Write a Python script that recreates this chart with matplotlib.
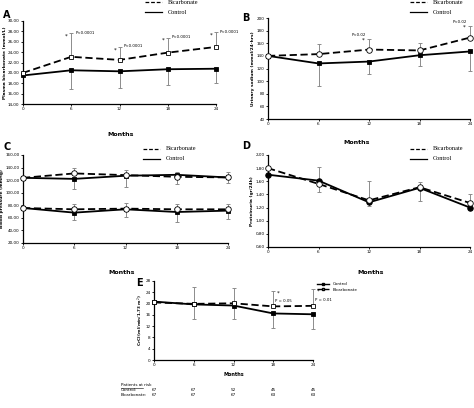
import numpy as np
import matplotlib.pyplot as plt

months = [0, 6, 12, 18, 24]

a_bic = [20.0, 23.1, 22.5, 23.9, 25.0]
a_bic_up = [0, 4.5, 2.5, 2.9, 2.8]
a_ctl = [19.5, 20.5, 20.3, 20.7, 20.8]
a_ctl_dn = [0, 3.7, 3.3, 3.1, 2.7]
a_ticks = [14, 16, 18, 20, 22, 24, 26, 28, 30]

b_bic = [140, 142.8, 150, 148.6, 169]
b_bic_up = [0, 16, 16.6, 11.4, 18.8]
b_ctl = [140, 128, 131, 141, 147]
b_ctl_dn = [0, 35.5, 19.5, 17.3, 31.2]
b_ticks = [40, 60, 80, 100, 120, 140, 160, 180, 200]

c_sbp_bic = [123.7, 130.7, 128.0, 125.3, 124.3]
c_sbp_bic_up = [0, 8, 8, 8, 9]
c_sbp_ctl = [123.7, 122.0, 127.0, 128.5, 124.3]
c_sbp_ctl_dn = [0, 15.5, 18, 14, 8.5]
c_dbp_bic = [75.7, 73.6, 74.7, 73.6, 73.6]
c_dbp_bic_up = [0, 9, 9, 9, 8]
c_dbp_ctl = [75.7, 68.3, 73.6, 69.3, 71.5]
c_dbp_ctl_dn = [0, 12, 13, 16, 13]
c_ticks = [20, 40, 60, 80, 100, 120, 140, 160]

d_bic = [1.80, 1.56, 1.31, 1.51, 1.27]
d_bic_up = [0, 0.25, 0.29, 0.08, 0.13]
d_ctl = [1.70, 1.61, 1.28, 1.50, 1.20]
d_ctl_dn = [0, 0.18, 0.06, 0.20, 0.04]
d_ticks = [0.6, 0.8, 1.0, 1.2, 1.4, 1.6, 1.8, 2.0]

e_bic = [20.4, 19.9, 20.1, 19.0, 19.2]
e_bic_up = [0, 6.1, 5.4, 5.4, 6.0]
e_ctl = [20.7, 19.7, 19.3, 16.5, 16.2]
e_ctl_dn = [0, 5.3, 4.9, 5.3, 5.2]
e_ticks = [0, 4, 8, 12, 16, 20, 24, 28]

risk_ctl = [67, 67, 52, 45, 45]
risk_bic = [67, 67, 67, 63, 63]

W, H = 474, 408
fig = plt.figure(figsize=(W / 100, H / 100), dpi=100)


def box(l, t, r, b):
    return [l / W, 1 - b / H, (r - l) / W, (b - t) / H]


def comma(v):
    return f"{v:.2f}".replace(".", ",")


def setup(ax, ticks, labels, ylabel, ysize=3.2):
    ax.set_xlim(0, 24)
    ax.set_ylim(ticks[0], ticks[-1])
    ax.set_xticks(months)
    ax.set_yticks(ticks)
    ax.set_yticklabels(labels)
    ax.tick_params(labelsize=3, length=1.5, width=0.6, pad=1)
    for s in ['top', 'right']:
        ax.spines[s].set_visible(False)
    for s in ['left', 'bottom']:
        ax.spines[s].set_linewidth(0.9)
    ax.set_ylabel(ylabel, fontsize=ysize, fontweight='bold', labelpad=1)


def series(ax, y, up, dn, ls, marker, face, ms=3.5):
    # barre d'errore solo dal mese 6 in poi
    eb = ax.errorbar(months[1:], y[1:], yerr=[dn[1:], up[1:]], fmt='none', ecolor='#8c8c8c',
                     elinewidth=0.7, capsize=1.2, capthick=0.7, zorder=2)
    for art in eb.lines[1] + eb.lines[2]:
        art.set_clip_on(False)
    ax.plot(months, y, color='black', ls=ls, lw=1.3, marker=marker, ms=ms, clip_on=False,
            mfc=face, mec='black', mew=0.6, zorder=3, dashes=(4, 2) if ls == '--' else (None, None))


def legend_serif(x, y):
    for i, (lab, ls) in enumerate([('Bicarbonate', '--'), ('Control', '-')]):
        yy = y + i * 10
        fig.add_artist(plt.Line2D([x / W, (x + 17) / W], [1 - yy / H] * 2,
                                  color='black', lw=0.9, ls=ls, dashes=(3, 1.5) if ls == '--' else (None, None)))
        fig.text((x + 23) / W, 1 - yy / H, lab, fontsize=4.5, family='Liberation Serif', va='center')


def months_label(x, y):
    fig.text(x / W, 1 - y / H, 'Months', fontsize=4.5, fontweight='bold', ha='center', va='center')


# pannello A
axA = fig.add_axes(box(23, 21, 216, 104))
setup(axA, a_ticks, [comma(t) for t in a_ticks], 'Plasma bicarbonate (mmol/L)')
series(axA, a_ctl, [0] * 5, a_ctl_dn, '-', 's', 'black')
series(axA, a_bic, a_bic_up, [0] * 5, '--', 's', 'white')
for i in range(1, 5):
    yv = a_bic[i] + a_bic_up[i]
    axA.text(months[i] - 0.4, yv - 1.0, '*', fontsize=4, ha='right', va='bottom')
    axA.text(months[i] + 0.5, yv - 0.3, 'P<0.0001', fontsize=2.8, ha='left', va='bottom')
fig.text(3 / W, 1 - 15 / H, 'A', fontsize=7, fontweight='bold', va='center')
legend_serif(145, 2)
months_label(121, 134)

# pannello B
axB = fig.add_axes(box(268, 18, 470, 119))
setup(axB, b_ticks, [str(t) for t in b_ticks], 'Urinary sodium (mmol/24-hrs)')
series(axB, b_ctl, [0] * 5, b_ctl_dn, '-', 's', 'black')
series(axB, b_bic, b_bic_up, [0] * 5, '--', 'o', 'white', ms=4)
for i in [2, 4]:
    yv = b_bic[i] + b_bic_up[i]
    axB.text(months[i] - 0.5, yv - 6, '*', fontsize=4, ha='right', va='bottom')
    axB.text(months[i] - 1.2, yv + 3, 'P<0.02', fontsize=2.8, ha='center', va='bottom')
fig.text(242 / W, 1 - 18 / H, 'B', fontsize=7, fontweight='bold', va='center')
legend_serif(410, 2)
months_label(357, 142)

# pannello C
axC = fig.add_axes(box(23, 155, 228, 243))
setup(axC, c_ticks, [comma(t) for t in c_ticks], 'Blood pressure (mmHg)')
series(axC, c_sbp_ctl, [0] * 5, c_sbp_ctl_dn, '-', 's', 'black')
series(axC, c_sbp_bic, c_sbp_bic_up, [0] * 5, '--', 'o', 'white', ms=4)
series(axC, c_dbp_ctl, [0] * 5, c_dbp_ctl_dn, '-', 's', 'black')
series(axC, c_dbp_bic, c_dbp_bic_up, [0] * 5, '--', 'o', 'white', ms=4)
fig.text(3 / W, 1 - 147 / H, 'C', fontsize=7, fontweight='bold', va='center')
legend_serif(143, 149)
months_label(122, 273)

# pannello D
axD = fig.add_axes(box(268, 155, 470, 247))
setup(axD, d_ticks, [comma(t) for t in d_ticks], 'Proteinuria (gr/24h)')
series(axD, d_ctl, [0] * 5, d_ctl_dn, '-', 'o', 'black', ms=4)
series(axD, d_bic, d_bic_up, [0] * 5, '--', 'o', 'white', ms=4)
fig.text(242 / W, 1 - 146 / H, 'D', fontsize=7, fontweight='bold', va='center')
legend_serif(410, 149)
months_label(371, 273)

# pannello E
axE = fig.add_axes(box(154, 281, 313, 360))
setup(axE, e_ticks, [str(t) for t in e_ticks], 'CrCl (ml/min/1.73 m$^2$)', ysize=3.0)
axE.set_xlabel('Months', fontsize=3.5, fontweight='bold', labelpad=3)
series(axE, e_ctl, [0] * 5, e_ctl_dn, '-', 's', 'black', ms=3)
series(axE, e_bic, e_bic_up, [0] * 5, '--', 's', 'white', ms=3)
for i in [3, 4]:
    yv = e_bic[i] + e_bic_up[i]
    axE.text(months[i] + 0.6, yv - 1.5, '*', fontsize=4, ha='left', va='bottom')
    axE.text(months[i] + 0.3, e_bic[i] + 1.2, 'P = 0.05' if i == 3 else 'P = 0.01', fontsize=2.8, ha='left', va='bottom')
fig.text(136 / W, 1 - 283 / H, 'E', fontsize=7, fontweight='bold', va='center')
axE.legend(handles=[
    plt.Line2D([], [], color='black', lw=1, marker='s', ms=2, mfc='black'),
    plt.Line2D([], [], color='black', lw=1, ls='--', marker='s', ms=2, mfc='white')],
    labels=['Control', 'Bicarbonate'], fontsize=3, frameon=False,
    loc='upper left', bbox_to_anchor=(1.0, 1.03), handlelength=3, labelspacing=0.3)

# pazienti a rischio
fig.text(121 / W, 1 - 385 / H, 'Patients at risk', fontsize=3, va='center')
fig.text(121 / W, 1 - 390 / H, 'Control:', fontsize=3, va='center')
fig.text(121 / W, 1 - 395 / H, 'Bicarbonate:', fontsize=3, va='center')
for m, c, b in zip(months, risk_ctl, risk_bic):
    xp = axE.transData.transform((m, 0))[0] / fig.dpi / (W / 100)
    fig.text(xp, 1 - 390 / H, str(c), fontsize=3, ha='center', va='center')
    fig.text(xp, 1 - 395 / H, str(b), fontsize=3, ha='center', va='center')
fig.add_artist(plt.Line2D([121 / W, 143 / W], [1 - 387.5 / H] * 2, color='black', lw=0.4))

fig.savefig('out.png', dpi=100)
